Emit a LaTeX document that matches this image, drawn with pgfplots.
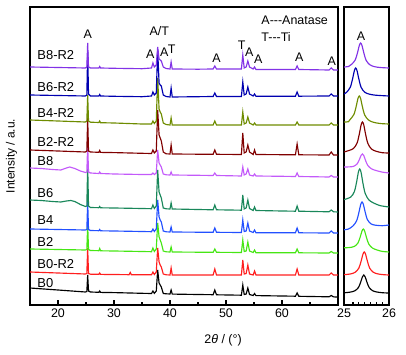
\documentclass[border=0pt]{standalone}
\usepackage{pgfplots}
\pgfplotsset{compat=1.18}
\usepackage{fontspec}
\setmainfont{Liberation Sans}
\definecolor{cBeR}{RGB}{130,50,230}
\definecolor{cBsR}{RGB}{0,0,176}
\definecolor{cBfR}{RGB}{110,140,0}
\definecolor{cBtR}{RGB}{128,0,0}
\definecolor{cBe}{RGB}{195,90,250}
\definecolor{cBs}{RGB}{25,135,90}
\definecolor{cBf}{RGB}{35,80,255}
\definecolor{cBt}{RGB}{70,230,20}
\definecolor{cBzR}{RGB}{255,30,30}
\definecolor{cBz}{RGB}{0,0,0}
\pgfplotsset{
  common/.style={
    scale only axis, anchor=south west,
    height=298bp, ymin=0, ymax=298,
    ytick=\empty,
    xtick pos=left, tick align=inside,
    major tick length=5bp, minor tick length=3bp,
    tick style={black, line width=1.1bp},
    axis line style={line width=1.6bp},
    tick label style={font=\fontsize{12.5}{14}\selectfont},
    /pgf/number format/assume math mode=true,
    every axis plot/.append style={line width=1.15bp},
  },
}
\begin{document}
\begin{tikzpicture}
\path[use as bounding box] (0,0) rectangle (406bp,355bp);
\begin{axis}[common,
  at={(30bp,50bp)}, width=308bp,
  xmin=15, xmax=70,
  xtick={20,30,40,50,60}, minor xtick={25,35,45,55,65},
  ylabel={Intensity / a.u.},
  ylabel style={at={(axis description cs:-0.06,0.5)}, anchor=center, font=\fontsize{12}{14}\selectfont},
  xlabel={2\textit{θ} / (°)},
  xlabel style={at={(axis description cs:0.627,-0.117)}, anchor=center, font=\fontsize{12.5}{14}\selectfont},
]
% B0
\addplot[cBz] coordinates {(15,17)(20,15)(24.9,13)(25.15,13.5)(25.3,30)(25.45,14)(25.8,13)(27.3,12.7)(27.45,14)(27.6,12.6)(30,12.4)(35,11.7)(36.7,11.5)(36.95,14)(37.2,11.7)(37.55,14)(37.8,35)(38.05,22)(38.25,20)(38.45,18)(38.8,11.5)(39.3,11.2)(40.0,11)(40.2,15)(40.4,10.9)(45,10.5)(47.7,10.3)(48.0,15)(48.3,10.2)(52.75,9.8)(53.0,20)(53.25,10.5)(53.6,11)(53.9,17)(54.2,10.5)(54.85,9.5)(55.1,11.5)(55.35,9.4)(60,9)(62.4,8.8)(62.7,12)(63.0,8.7)(68.4,8.2)(68.8,9.5)(69.2,8.1)(70,8)};
% B0-R2
\addplot[cBzR] coordinates {(15,33)(20,32)(24.9,31)(25.15,31.5)(25.3,57)(25.45,31.5)(25.8,30.8)(27.3,30.7)(27.45,32)(27.6,30.6)(30,30.5)(32.7,30.3)(32.9,32.5)(33.1,30.3)(35,30.2)(36.7,30.2)(36.95,33)(37.2,30.5)(37.55,33)(37.8,57)(38.05,43)(38.25,40)(38.45,38)(38.8,31)(39.3,30.2)(40.0,30)(40.2,37)(40.4,30)(45,30)(47.7,30)(48.0,36)(48.3,30)(52.75,30)(53.0,45)(53.25,31)(53.6,31.5)(53.9,40)(54.2,31)(54.85,30)(55.1,34)(55.35,30)(60,30)(62.4,30)(62.7,36)(63.0,30)(68.4,30)(68.8,32)(69.2,30)(70,30)};
% B2
\addplot[cBt] coordinates {(15,56)(20,55.5)(24.9,55)(25.15,55.5)(25.3,80)(25.45,55.5)(25.8,54.5)(27.3,54.3)(27.45,56.5)(27.6,54.2)(30,54)(35,53.5)(36.7,53.3)(36.95,57)(37.2,53.5)(37.55,56)(37.8,82)(38.05,68)(38.25,65)(38.45,62)(38.8,54)(39.3,53.2)(40.0,53)(40.2,58)(40.4,53)(45,52.8)(47.7,52.7)(48.0,56)(48.3,52.7)(52.75,52.5)(53.0,65)(53.25,53.5)(53.6,54)(53.9,63)(54.2,54)(54.85,52.5)(55.1,55)(55.35,52.3)(60,52.2)(62.4,52.2)(62.7,56)(63.0,52.2)(68.4,52)(68.8,53.5)(69.2,52)(70,52)};
% B4
\addplot[cBf] coordinates {(15,76)(20,75.5)(24.9,75)(25.15,75.5)(25.3,103)(25.45,75.5)(25.8,74.5)(27.3,74.3)(27.45,75.5)(27.6,74.2)(30,74)(35,73.5)(36.7,73.3)(36.95,76)(37.2,73.5)(37.55,76)(37.8,105)(38.05,88)(38.25,85)(38.45,83)(38.8,74)(39.3,73.2)(40.0,73)(40.2,78)(40.4,73)(45,72.8)(47.7,72.7)(48.0,77)(48.3,72.7)(52.75,72.5)(53.0,85)(53.25,73.5)(53.6,74)(53.9,82)(54.2,74)(54.85,72.5)(55.1,75)(55.35,72.3)(60,72.2)(62.4,72.2)(62.7,77)(63.0,72.2)(68.4,72)(68.8,74)(69.2,72)(70,72)};
% B6
\addplot[cBs] coordinates {(15,105)(17,104.5)(19,103.5)(20.5,103)(21.5,104)(22.3,104.5)(23,103.5)(24,100.5)(24.9,98.5)(25.15,99)(25.3,140)(25.45,99)(25.8,97.5)(27.3,97.3)(27.45,98.5)(27.6,97.2)(30,97)(35,96.5)(36.7,96.3)(36.95,100)(37.2,96.5)(37.55,99)(37.8,135)(38.05,113)(38.25,110)(38.45,107)(38.8,97)(39.3,96.2)(40.0,96)(40.2,102)(40.4,96)(45,95.5)(47.7,95.2)(48.0,100)(48.3,95.2)(52.75,94.8)(53.0,110)(53.25,96)(53.6,97)(53.9,105)(54.2,96.5)(54.85,94.5)(55.1,98)(55.35,94.5)(60,94)(62.4,93.8)(62.7,99)(63.0,93.8)(68.4,93.2)(68.8,95)(69.2,93.2)(70,93)};
% B8
\addplot[cBe] coordinates {(15,137)(17,136.5)(19,135.5)(20.5,135)(21.5,137)(22.1,138)(23,136.5)(24,134)(24.9,132.5)(25.15,133)(25.3,160)(25.45,133)(25.8,132)(27.3,131.5)(27.45,133)(27.6,131.5)(30,131)(35,130.5)(36.7,130.5)(36.95,132)(37.2,130.5)(37.55,132)(37.8,155)(38.05,142)(38.25,140)(38.45,138)(38.8,131)(39.3,130.2)(40.0,130)(40.2,133)(40.4,130)(45,129.7)(47.7,129.5)(48.0,132)(48.3,129.5)(52.75,129)(53.0,138)(53.25,130)(53.6,131)(53.9,136)(54.2,130)(54.85,129)(55.1,131)(55.35,129)(60,128.7)(62.4,128.5)(62.7,132)(63.0,128.5)(68.4,128)(68.8,129.5)(69.2,128)(70,128)};
% B2-R2
\addplot[cBtR] coordinates {(15,155)(20,154)(24.9,153)(25.15,154)(25.3,187)(25.45,154)(25.8,153)(27.3,152.7)(27.45,154.5)(27.6,152.6)(30,152.4)(35,151.7)(36.7,151.5)(36.95,155)(37.2,152)(37.55,154)(37.8,195)(38.05,170)(38.25,167)(38.45,164)(38.8,153)(39.3,151.2)(40.0,151)(40.2,160)(40.4,151)(45,150.8)(47.7,150.7)(48.0,155)(48.3,150.7)(52.75,150.5)(53.0,172)(53.25,152)(53.6,153)(53.9,160)(54.2,153)(54.85,150.5)(55.1,155)(55.35,150.5)(60,150.3)(62.4,150.2)(62.7,161)(63.0,150.2)(68.4,150)(68.8,153)(69.2,150)(70,150)};
% B4-R2
\addplot[cBfR] coordinates {(15,185)(20,184)(24.9,183)(25.15,184)(25.3,210)(25.45,184)(25.8,182.8)(27.3,182.5)(27.45,184)(27.6,182.3)(30,182)(35,181)(36.7,181)(36.95,184)(37.2,181.5)(37.55,184)(37.8,227)(38.05,196)(38.25,193)(38.45,191)(38.8,182)(39.3,180.5)(40.0,180)(40.2,187)(40.4,180)(45,180)(47.7,180)(48.0,184)(48.3,180)(52.75,180)(53.0,193)(53.25,181)(53.6,182)(53.9,188)(54.2,182)(54.85,180)(55.1,182)(55.35,180)(60,180)(62.4,180)(62.7,183)(63.0,180)(68.4,180)(68.8,182)(69.2,180)(70,180)};
% B6-R2
\addplot[cBsR] coordinates {(15,210)(20,209.5)(24.9,209)(25.15,210)(25.3,253)(25.45,211)(25.8,209)(27.3,209)(27.45,210.5)(27.6,209)(30,208.7)(35,208.3)(36.7,209)(36.95,213)(37.2,210)(37.55,212)(37.8,255)(38.05,222)(38.25,220)(38.45,219)(38.8,210)(39.3,208.5)(40.0,208)(40.2,217)(40.4,208)(45,208.3)(47.7,208.5)(48.0,212)(48.3,208.5)(52.75,208.5)(53.0,223)(53.25,210)(53.6,211)(53.9,218)(54.2,211)(54.85,209)(55.1,211)(55.35,208.7)(60,208.8)(62.4,208.8)(62.7,213)(63.0,208.8)(68.4,209)(68.8,211)(69.2,209)(70,209)};
% B8-R2
\addplot[cBeR] coordinates {(15,238)(20,237.5)(24.9,237)(25.15,238)(25.3,262)(25.45,238)(25.8,237)(27.3,237)(27.45,238.5)(27.6,237)(30,236.7)(35,236.3)(36.7,237)(36.95,242)(37.2,238)(37.55,240)(37.8,258)(38.05,246)(38.25,245)(38.45,244)(38.8,238)(39.3,236.5)(40.0,236)(40.2,243)(40.4,236)(45,235.8)(47.7,236)(48.0,239)(48.3,236)(52.75,236)(53.0,250)(53.25,237)(53.6,238)(53.9,244)(54.2,238)(54.85,236)(55.1,238)(55.35,235.5)(60,235.5)(62.4,235.5)(62.7,239)(63.0,235.5)(68.4,235)(68.8,237)(69.2,235)(70,235)};
% sample labels
\begin{scope}[every node/.style={anchor=west, inner sep=0pt, font=\fontsize{13}{15}\selectfont}]
\node at (axis cs:16.3,250) {B8-R2};
\node at (axis cs:16.3,218) {B6-R2};
\node at (axis cs:16.3,192) {B4-R2};
\node at (axis cs:16.3,163) {B2-R2};
\node at (axis cs:16.3,144) {B8};
\node at (axis cs:16.3,112) {B6};
\node at (axis cs:16.3,85) {B4};
\node at (axis cs:16.3,63) {B2};
\node at (axis cs:16.3,41) {B0-R2};
\node at (axis cs:16.3,22) {B0};
\end{scope}
% peak labels
\begin{scope}[every node/.style={inner sep=0pt, font=\fontsize{12.5}{14}\selectfont}]
\node at (axis cs:25.3,271) {A};
\node at (axis cs:38.1,274) {A/T};
\node at (axis cs:36.5,251) {A};
\node at (axis cs:39.0,253) {A};
\node at (axis cs:40.3,256) {T};
\node at (axis cs:48.3,247) {A};
\node at (axis cs:52.8,260) {T};
\node at (axis cs:54.15,253) {A};
\node at (axis cs:55.75,246) {A};
\node at (axis cs:63.1,247.5) {A};
\node at (axis cs:68.9,244) {A};
\node[anchor=west] at (axis cs:56.3,285) {A{-}{-}{-}Anatase};
\node[anchor=west] at (axis cs:56.3,268) {T{-}{-}{-}Ti};
\end{scope}
\end{axis}
\begin{axis}[common,
  at={(344bp,50bp)}, width=45bp,
  xmin=25, xmax=26,
  xtick={25,26}, minor xtick={25.2,25.33,25.46,25.59,25.72,25.85},
  xticklabels={25,26},
]
\addplot[cBz, smooth] coordinates {(25.00,12.2)(25.14,12.9)(25.24,14.2)(25.32,17.4)(25.37,22.8)(25.41,28.2)(25.44,30)(25.47,28.2)(25.51,22.8)(25.56,17.4)(25.64,14.2)(25.74,12.9)(25.87,12.2)(26.00,12)};
\addplot[cBzR, smooth] coordinates {(25.00,30.3)(25.15,31.1)(25.25,32.8)(25.33,36.9)(25.38,43.8)(25.42,50.7)(25.45,53)(25.48,50.7)(25.52,43.8)(25.57,36.9)(25.65,32.8)(25.75,31.1)(25.88,30.3)(26.00,30)};
\addplot[cBt, smooth] coordinates {(25.00,57.2)(25.13,57.5)(25.23,58.6)(25.31,62)(25.36,68)(25.40,74)(25.43,76)(25.46,73.8)(25.50,67.4)(25.55,61)(25.63,57)(25.73,55.1)(25.85,53.6)(26.00,53)};
\addplot[cBf, smooth] coordinates {(25.00,75.2)(25.10,76)(25.20,79.1)(25.28,84.2)(25.33,92.3)(25.37,100.3)(25.40,103)(25.43,100.6)(25.47,93)(25.52,85.4)(25.60,81.1)(25.70,79.8)(25.85,79.3)(26.00,80)};
\addplot[cBs, smooth] coordinates {(25.00,105.3)(25.15,108)(25.23,113.4)(25.28,123)(25.32,133)(25.35,136)(25.38,132.5)(25.42,122)(25.47,111.7)(25.55,105.2)(25.65,102.2)(25.80,99.4)(26.00,98)};
\addplot[cBe, smooth] coordinates {(25.00,138)(25.11,138.1)(25.21,138.6)(25.29,141)(25.34,145.3)(25.38,149.7)(25.41,151)(25.44,149.4)(25.48,144.4)(25.53,139.5)(25.61,136.2)(25.71,134.5)(25.85,132.9)(26.00,132)};
\addplot[cBtR, smooth] coordinates {(25.00,153)(25.11,154.5)(25.21,156.5)(25.29,161.9)(25.34,170.9)(25.38,180)(25.41,183)(25.44,180)(25.48,170.7)(25.53,161.6)(25.61,156)(25.71,153.8)(25.85,152.3)(26.00,152)};
\addplot[cBfR, smooth] coordinates {(25.00,183)(25.10,183.3)(25.14,185.7)(25.22,190.5)(25.27,198.5)(25.31,206.5)(25.34,209)(25.37,206.3)(25.41,198.1)(25.46,190)(25.54,185.2)(25.64,182.9)(25.80,181.5)(26.00,181)};
\addplot[cBsR, smooth] coordinates {(25.00,211)(25.06,212.8)(25.14,217.8)(25.19,226)(25.23,234.3)(25.26,237)(25.29,234.2)(25.33,226)(25.38,217.7)(25.46,212.8)(25.56,210.9)(25.70,209.8)(26.00,209)};
\addplot[cBeR, smooth] coordinates {(25.00,238)(25.10,238.5)(25.17,240.7)(25.25,245.1)(25.30,252.3)(25.34,259.5)(25.37,262)(25.40,259.5)(25.44,252.2)(25.49,244.8)(25.57,240.4)(25.67,238.4)(25.80,237.5)(26.00,237)};
\node[inner sep=0pt, font=\fontsize{12.5}{14}\selectfont] at (axis cs:25.38,269) {A};
\end{axis}
\end{tikzpicture}
\end{document}
